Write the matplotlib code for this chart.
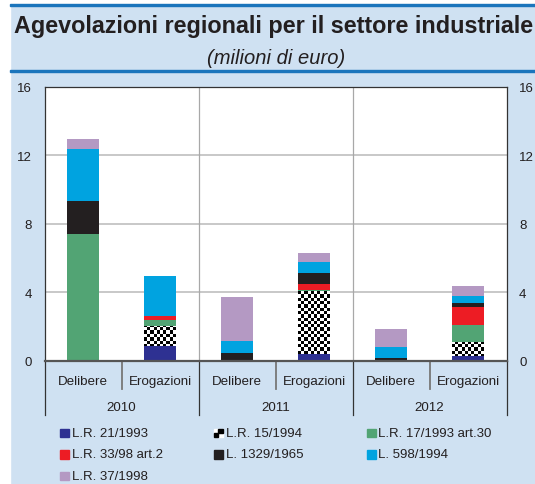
import matplotlib.pyplot as plt
import matplotlib.transforms as mtransforms
from matplotlib.patches import Rectangle
import numpy as np

plt.rcParams['font.family'] = ['Liberation Sans', 'DejaVu Sans']

# bar positions: two categories for each year
categories = ['Delibere', 'Erogazioni', 'Delibere', 'Erogazioni', 'Delibere', 'Erogazioni']
years = ['2010', '2011', '2012']

# stacked series (milioni di euro), bottom to top
series_names = ['L.R. 21/1993', 'L.R. 15/1994', 'L.R. 17/1993 art.30',
                'L.R. 33/98 art.2', 'L. 1329/1965', 'L. 598/1994', 'L.R. 37/1998']
lr21_1993 = [0.00, 0.84, 0.00, 0.37, 0.00, 0.27]
lr15_1994 = [0.00, 1.18, 0.00, 3.70, 0.00, 0.79]
lr17_1993 = [7.39, 0.36, 0.00, 0.04, 0.00, 1.02]
lr33_98 = [0.00, 0.23, 0.00, 0.39, 0.00, 1.06]
l1329_1965 = [1.95, 0.00, 0.43, 0.59, 0.16, 0.24]
l598_1994 = [3.01, 2.36, 0.71, 0.65, 0.62, 0.41]
lr37_1998 = [0.59, 0.00, 2.59, 0.53, 1.07, 0.59]
series_values = [lr21_1993, lr15_1994, lr17_1993, lr33_98, l1329_1965, l598_1994, lr37_1998]
colors = ['#2e3192', 'checker', '#52a474', '#ed1c24', '#231f20', '#00a3e0', '#b499c3']

yticks = [0, 4, 8, 12, 16]

bg = '#cfe1f2'
dark_blue = '#1b75bc'
txt = '#231f20'

W, H = 535, 485
fig = plt.figure(figsize=(W / 100, H / 100), dpi=100)
fig.patch.set_facecolor(bg)

# white margins and blue rules of the frame
fig.add_artist(Rectangle((0, 0), 9.5 / W, 1, transform=fig.transFigure, color='white', zorder=0))
fig.add_artist(Rectangle((0, (H - 4.7) / H), 1, 4.7 / H, transform=fig.transFigure, color='white', zorder=0))
fig.add_artist(Rectangle((9.5 / W, (H - 6.8) / H), 1, 2.3 / H, transform=fig.transFigure, color=dark_blue))
fig.add_artist(Rectangle((9.5 / W, (H - 73.3) / H), 1, 2.3 / H, transform=fig.transFigure, color=dark_blue))

fig.text(274 / W, (H - 32.5) / H, 'Agevolazioni regionali per il settore industriale',
         fontsize=16.8, fontweight='bold', color=txt, ha='center', va='baseline')
fig.text(276.5 / W, (H - 64) / H, '(milioni di euro)', fontsize=14.5, style='italic',
         color=txt, ha='center', va='baseline')

left, right, top, bottom = 44.5, 506.5, 88, 361.5
ax = fig.add_axes([left / W, (H - bottom) / H, (right - left) / W, (bottom - top) / H])
ax.set_facecolor('white')

x = np.arange(len(categories)) + 0.5
width = 0.415
base = np.zeros(len(categories))
checker_bars = []
for name, vals, col in zip(series_names, series_values, colors):
    vals = np.array(vals)
    if col == 'checker':
        bars = ax.bar(x, vals, width, bottom=base, color='white', linewidth=0, zorder=3)
        checker_bars.extend(bars.patches)
    else:
        ax.bar(x, vals, width, bottom=base, color=col, linewidth=0, zorder=3)
    base += vals

# checkerboard fill for L.R. 15/1994
nx, ny = 144, 84
board = (np.add.outer(np.arange(ny), np.arange(nx)) % 2).astype(float)
for p in checker_bars:
    if p.get_height() <= 0:
        continue
    im = ax.imshow(board, cmap='gray', extent=(0, 6, 0, 16), aspect='auto',
                   interpolation='nearest', zorder=3.5, vmin=0, vmax=1)
    im.set_clip_path(p)

ax.set_xlim(0, 6)
ax.set_ylim(0, 16)
ax.set_xticks([])
ax.set_yticks(yticks)
ax.tick_params(axis='y', length=0, labelsize=9.5, labelcolor=txt, pad=9,
               left=False, right=False, labelleft=True, labelright=True)
for yv in yticks[1:-1]:
    ax.axhline(yv, color='#c4c4c4', lw=1.3, zorder=1)
for xv in [2, 4]:
    ax.axvline(xv, color='#a8a8a8', lw=0.9, zorder=1)
for s in ['top', 'left', 'right']:
    ax.spines[s].set_color('#333333')
    ax.spines[s].set_linewidth(0.9)
ax.spines['bottom'].set_color('#555555')
ax.spines['bottom'].set_linewidth(1.6)
ax.spines['bottom'].set_zorder(5)

# two-level category axis
trans = mtransforms.blended_transform_factory(ax.transData, ax.transAxes)
for xi, cat in zip(x, categories):
    ax.text(xi, -0.075, cat, transform=trans, ha='center', va='center',
            fontsize=9.6, color=txt)
for i, yr in enumerate(years):
    ax.text(2 * i + 1, -0.17, yr, transform=trans, ha='center', va='center',
            fontsize=9.6, color=txt)
for xv in [1, 3, 5]:
    ax.plot([xv, xv], [0, -0.104], transform=trans, color='#777777', lw=1.3, clip_on=False)
for xv in [0, 2, 4, 6]:
    ax.plot([xv, xv], [0, -0.199], transform=trans, color='#333333', lw=0.9, clip_on=False)

# legend, three columns
col_x = [60, 214, 367]
row_y = [434, 455.5, 477]
sq = 8.5
for i, (name, col) in enumerate(zip(series_names, colors)):
    cx, cy = col_x[i % 3], row_y[i // 3]
    if col == 'checker':
        fig.add_artist(Rectangle((cx / W, (H - cy - sq / 2) / H), sq / W, sq / H,
                                 transform=fig.transFigure, color='white'))
        for dx, dy in [(1, 1), (0, 0)]:
            fig.add_artist(Rectangle(((cx + dx * sq / 2) / W, (H - cy - sq / 2 + dy * sq / 2) / H),
                                     sq / 2 / W, sq / 2 / H, transform=fig.transFigure,
                                     color='black'))
    else:
        fig.add_artist(Rectangle((cx / W, (H - cy - sq / 2) / H), sq / W, sq / H,
                                 transform=fig.transFigure, color=col))
    fig.text((cx + sq + 3) / W, (H - cy) / H, name, fontsize=9.5, color=txt,
             ha='left', va='center')

fig.savefig('out.png', dpi=100, facecolor=fig.get_facecolor())
